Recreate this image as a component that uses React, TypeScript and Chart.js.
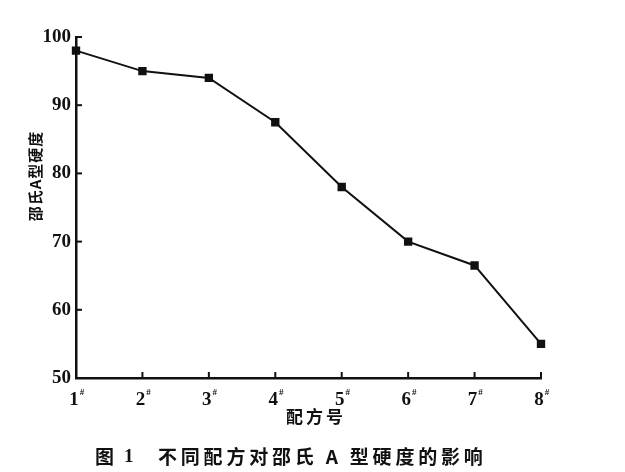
import React, { useEffect, useRef } from "react";
import { Chart, registerables } from "chart.js";

Chart.register(...registerables);

const categories = ["1", "2", "3", "4", "5", "6", "7", "8"];
const hardness = [98, 95, 94, 87.5, 78, 70, 66.5, 55];
const yTicks = [50, 60, 70, 80, 90, 100];
const yTitle = "邵氏A型硬度";
const xTitle = "配方号";
const captionFig = "图";
const captionNum = "1";
const captionText = "不同配方对邵氏 A 型硬度的影响";

const SERIF = "'Liberation Serif', 'DejaVu Serif', serif";
const CJK = "'Noto Sans CJK SC', sans-serif";

const decorPlugin = {
  id: "decor",
  afterDraw(chart: any) {
    const ctx = chart.ctx as CanvasRenderingContext2D;
    const x = chart.scales.x;
    const y = chart.scales.y;
    const ca = chart.chartArea;
    ctx.save();
    ctx.strokeStyle = "#111";
    ctx.lineWidth = 2;
    yTicks.forEach((v) => {
      const py = y.getPixelForValue(v);
      ctx.beginPath();
      ctx.moveTo(ca.left, py);
      ctx.lineTo(ca.left + 6, py);
      ctx.stroke();
    });
    categories.forEach((_, i) => {
      const px = x.getPixelForValue(i);
      ctx.beginPath();
      ctx.moveTo(px, ca.bottom);
      ctx.lineTo(px, ca.bottom - 6);
      ctx.stroke();
    });
    ctx.fillStyle = "#111";
    ctx.textBaseline = "alphabetic";
    categories.forEach((c, i) => {
      const px = x.getPixelForValue(i);
      ctx.font = "bold 19px " + SERIF;
      const w = ctx.measureText(c).width;
      ctx.textAlign = "left";
      ctx.fillText(c, px - w / 2 - 2, ca.bottom + 27);
      ctx.font = "bold 9px " + SERIF;
      ctx.fillText("#", px + w / 2 - 1, ca.bottom + 17);
    });
    // y title
    ctx.save();
    ctx.translate(35, 176);
    ctx.rotate(-Math.PI / 2);
    ctx.font = "bold 15px " + CJK;
    (ctx as any).letterSpacing = "1px";
    ctx.textAlign = "center";
    ctx.textBaseline = "middle";
    ctx.fillText(yTitle, 0, 0);
    ctx.restore();
    // x title
    ctx.font = "bold 17px " + CJK;
    ctx.textAlign = "center";
    ctx.textBaseline = "middle";
    (ctx as any).letterSpacing = "3px";
    ctx.fillText(xTitle, 316, 417);
    // caption
    (ctx as any).letterSpacing = "0px";
    ctx.textAlign = "left";
    ctx.font = "bold 19px " + CJK;
    ctx.fillText(captionFig, 95, 457);
    ctx.font = "bold 19px " + SERIF;
    ctx.fillText(captionNum, 124, 457);
    ctx.font = "bold 19px " + CJK;
    (ctx as any).letterSpacing = "3.8px";
    ctx.fillText(captionText, 158, 457);
    ctx.restore();
  },
};

export default function App() {
  const ref = useRef<HTMLCanvasElement>(null);
  useEffect(() => {
    if (!ref.current) return;
    const chart = new Chart(ref.current, {
      type: "line",
      data: {
        labels: categories,
        datasets: [
          {
            data: hardness,
            borderColor: "#111",
            backgroundColor: "#111",
            borderWidth: 2,
            pointStyle: "rect",
            pointRadius: 4.5,
            pointBackgroundColor: "#111",
            pointBorderColor: "#111",
            tension: 0,
          },
        ],
      },
      plugins: [decorPlugin],
      options: {
        responsive: false,
        animation: false,
        devicePixelRatio: 1,
        layout: { padding: { left: 0, top: 37, right: 84, bottom: 0 } },
        plugins: { legend: { display: false }, tooltip: { enabled: false } },
        scales: {
          x: {
            type: "category",
            offset: false,
            grid: { display: false, drawTicks: false },
            border: { display: true, color: "#111", width: 2.5 },
            ticks: { display: false },
            afterFit: (s: any) => {
              s.height = 94;
            },
          },
          y: {
            min: 50,
            max: 100,
            afterBuildTicks: (s: any) => {
              s.ticks = yTicks.map((v) => ({ value: v }));
            },
            grid: { display: false, drawTicks: false },
            border: { display: true, color: "#111", width: 2.5 },
            ticks: {
              color: "#111",
              font: { family: SERIF, size: 19, weight: "bold" },
              padding: 5,
            },
            afterFit: (s: any) => {
              s.width = 76;
            },
          },
        },
      },
    } as any);
    return () => chart.destroy();
  }, []);
  return (
    <div style={{ position: "absolute", left: 0, top: 0, width: 625, height: 472, background: "#fff" }}>
      <canvas ref={ref} width={625} height={472} />
    </div>
  );
}
